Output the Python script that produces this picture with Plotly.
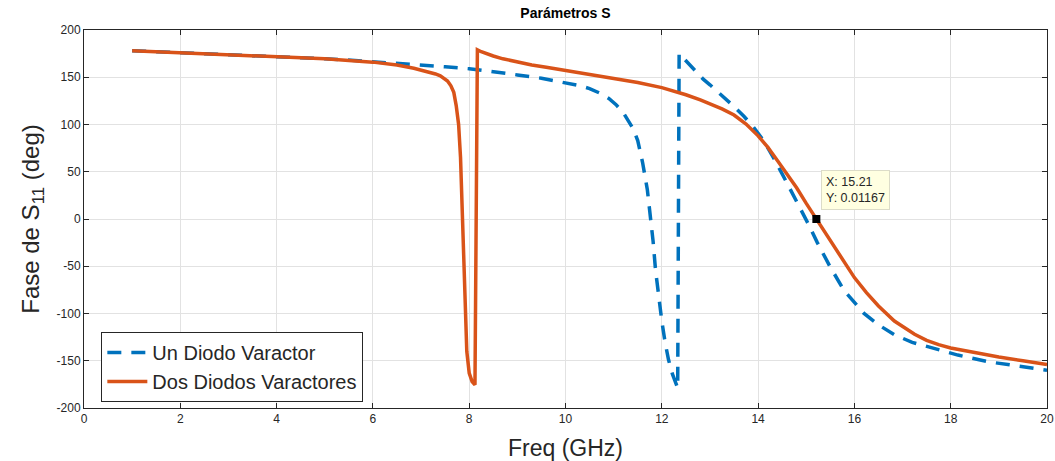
import plotly.graph_objects as go

# ---- data ----
freq_un = [1.0, 2.0, 3.0, 4.0, 5.0, 5.7, 6.5, 7.0, 7.5, 8.0, 8.5, 9.0, 9.5, 10.0, 10.3,
           10.5, 10.7, 10.9, 11.05, 11.2, 11.3, 11.4, 11.5, 11.6, 11.7, 11.76, 11.82,
           11.87, 11.93, 12.0, 12.07, 12.14, 12.22, 12.28, 12.33,
           12.36, 12.45, 12.53, 12.7, 12.86, 13.0, 13.2, 13.5, 13.7, 13.9, 14.1, 14.33,
           14.6, 14.9, 15.05, 15.23, 15.5, 15.79, 16.0, 16.2, 16.5, 16.83, 17.2, 17.5,
           17.8, 18.15, 18.77, 19.4, 20.0]
phase_un = [178, 176, 174, 172, 169.5, 167.5, 165, 163, 161, 159, 156, 152.5, 149, 144.5, 141,
            138, 133.5, 127.5, 121, 112.5, 105, 96, 83, 60, 31, 7, -24,
            -54, -83, -108, -131, -149, -164, -173, -179,
            175, 170, 165.5, 157, 148, 142, 133, 119, 109, 97.5, 84, 64,
            38, 9.5, -6, -25, -51, -76, -89, -100, -112, -122.5, -130.5, -135,
            -139.5, -144, -151, -156, -160]

freq_dos = [1.0, 2.0, 3.0, 4.0, 5.0, 6.0, 6.5, 6.85, 7.1, 7.3, 7.4, 7.48, 7.55, 7.62, 7.68,
            7.73, 7.78, 7.82, 7.85, 7.88, 7.91, 7.95, 8.0, 8.06, 8.12, 8.17,
            8.25, 8.35, 8.5, 8.7, 9.0, 9.3, 9.6, 10.0, 10.5, 11.0, 11.5, 12.0, 12.5,
            12.8, 13.0, 13.25, 13.5, 13.75, 14.0, 14.2, 14.4, 14.6, 14.8, 15.0, 15.21,
            15.4, 15.6, 15.8, 16.0, 16.25, 16.5, 16.83, 17.0, 17.25, 17.5, 17.75, 18.0,
            18.5, 19.0, 19.5, 20.0]
phase_dos = [178, 176, 174, 172, 169.5, 166, 163, 159.5, 156.5, 153.5, 151.5, 149, 146, 141, 134,
             120, 100, 65, 20, -40, -95, -140, -163, -172, -175.5, 179,
             177, 175, 172.5, 169.5, 166, 163, 160.5, 157, 153, 149, 144.5, 139, 131.5,
             126, 122, 116.5, 110, 100.5, 88, 76, 62, 48, 33, 16.5, 0.01167,
             -16, -32, -47, -62, -78, -92, -108, -114, -122, -128.5, -133, -136.5,
             -141.5, -146, -150, -154]

tip_x = [15.21]
tip_y = [0.01167]
tip_text = ["X: 15.21<br>Y: 0.01167"]

x_ticks = [0, 2, 4, 6, 8, 10, 12, 14, 16, 18, 20]
y_ticks = [-200, -150, -100, -50, 0, 50, 100, 150, 200]

series_names = ["Un Diodo Varactor", "Dos Diodos Varactores"]

# ---- figure ----
FONT = "Liberation Sans, Arial, Helvetica, sans-serif"
AX = "#262626"
GRID = "#e2e2e2"

fig = go.Figure()
fig.add_trace(go.Scatter(x=freq_un, y=phase_un, mode="lines", name=series_names[0],
                         line=dict(color="#0072BD", width=3.5, dash="14px,10px")))
fig.add_trace(go.Scatter(x=freq_dos, y=phase_dos, mode="lines", name=series_names[1],
                         line=dict(color="#D95319", width=3.5)))
fig.add_trace(go.Scatter(x=tip_x, y=tip_y, mode="markers", showlegend=False,
                         marker=dict(symbol="square", size=8, color="black")))

fig.add_annotation(x=tip_x[0], y=tip_y[0], xref="x", yref="y",
                   text=tip_text[0],
                   showarrow=False, xanchor="left", yanchor="bottom", xshift=5, yshift=9,
                   align="left", bgcolor="rgb(255,255,225)", bordercolor="#dcdcc8",
                   borderwidth=1, borderpad=4,
                   font=dict(family=FONT, size=12.5, color=AX))

axis_common = dict(showline=True, linecolor=AX, linewidth=1, mirror="ticks",
                   ticks="inside", ticklen=5, tickcolor=AX, showgrid=True,
                   gridcolor=GRID, gridwidth=1, zeroline=False,
                   tickfont=dict(family=FONT, size=12, color=AX))

fig.update_xaxes(range=[0, 20], tickvals=x_ticks, ticktext=[str(v) for v in x_ticks],
                 automargin=False,
                 title=dict(text="Freq (GHz)", font=dict(family=FONT, size=23, color=AX)),
                 **axis_common)
fig.update_yaxes(range=[-200, 200], tickvals=y_ticks, ticktext=[str(v) for v in y_ticks],
                 automargin="left",
                 title=dict(text="Fase de S<sub>11</sub> (deg)",
                            font=dict(family=FONT, size=24, color=AX), standoff=10),
                 **axis_common)

fig.update_layout(
    width=1055, height=461,
    margin=dict(l=84, r=8, t=30, b=53),
    paper_bgcolor="white", plot_bgcolor="white",
    title=dict(text="<b>Parámetros S</b>", x=(84 + 1047) / 2 / 1055, xanchor="center",
               y=1 - 13 / 461, yanchor="middle",
               font=dict(family=FONT, size=14, color="black")),
    legend=dict(x=0.018, y=0.016, xanchor="left", yanchor="bottom",
                bgcolor="white", bordercolor=AX, borderwidth=1,
                font=dict(family=FONT, size=20, color=AX),
                itemwidth=40, tracegroupgap=0),
    showlegend=True,
)

fig.write_html("out.html")
